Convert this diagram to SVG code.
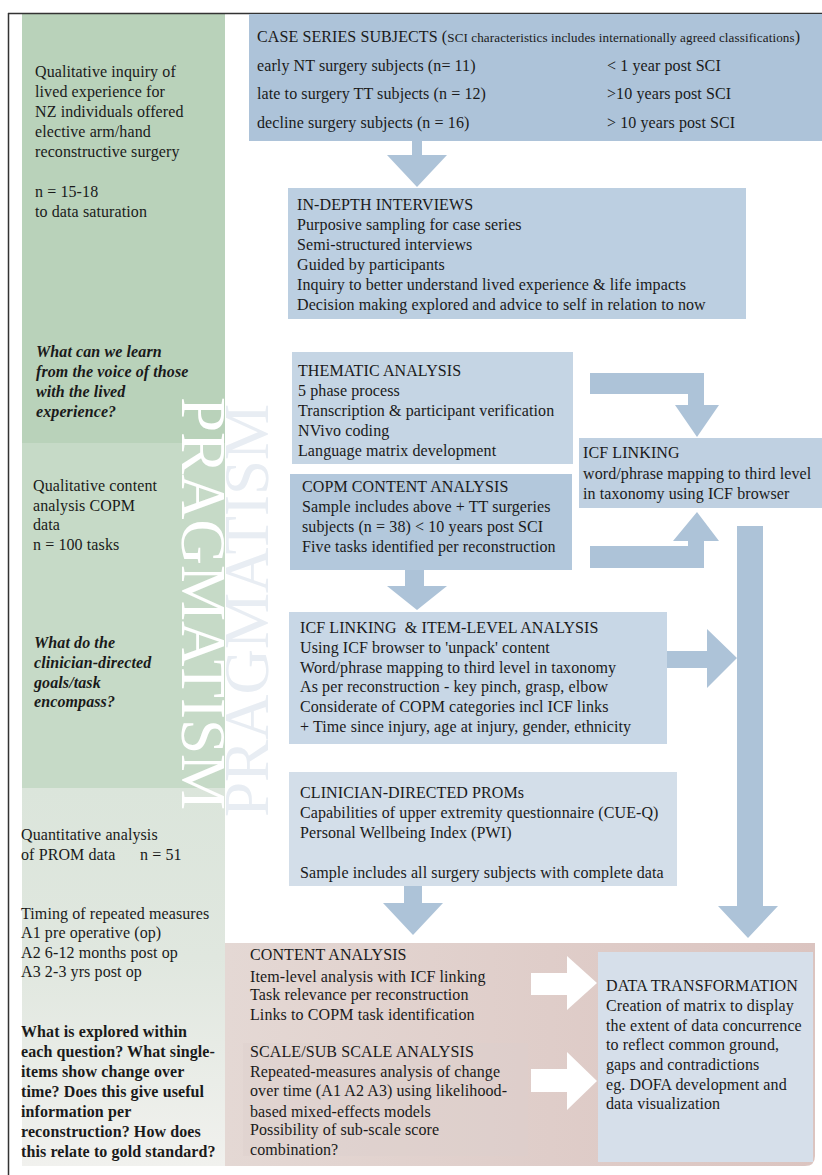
<svg xmlns="http://www.w3.org/2000/svg" width="822" height="1175" viewBox="0 0 822 1175">
<defs>
<linearGradient id="gLow" x1="0" y1="0" x2="0" y2="1">
<stop offset="0" stop-color="#dbe5db"/>
<stop offset="0.45" stop-color="#e0e7df"/>
<stop offset="1" stop-color="#f1f1ee"/>
</linearGradient>
<linearGradient id="gPink" x1="0" y1="0" x2="1" y2="0">
<stop offset="0" stop-color="#e4d8d4"/>
<stop offset="1" stop-color="#dbc4c0"/>
</linearGradient>
<style>
.t{font-family:"Liberation Serif","Times New Roman",serif;font-size:16px;letter-spacing:0.1px;fill:#1a1a1a}
.bi{font-weight:bold;font-style:italic}
.b{font-weight:bold}
.sm{font-size:13.1px}
.arr{fill:#adc3d8}
.warr{fill:#ffffff}
.wm{font-family:"Liberation Serif","Times New Roman",serif;font-size:63px}
</style>
</defs>
<rect x="0" y="0" width="822" height="1175" fill="#ffffff"/>

<g id="left-column">
<rect x="22" y="14" width="203" height="430" fill="#b9d2ba"/>
<rect x="22" y="443" width="203" height="346" fill="#c6dac7"/>
<rect x="22" y="788" width="203" height="378" fill="url(#gLow)"/>
</g>

<g id="results-band">
<path d="M225 943 H815 V1156 Q815 1166 805 1166 H225 Z" fill="url(#gPink)"/>
<rect x="243" y="1043" width="285" height="113" fill="#ddd0cc" opacity="0.4"/>
</g>

<g id="watermark">
<text class="wm" transform="translate(182,397) rotate(90)" fill="#ffffff">PRAGMATISM</text>
<text class="wm" transform="translate(268,817) rotate(-90)" fill="#e8edf3">PRAGMATISM</text>
</g>

<line x1="8.5" y1="13" x2="8.5" y2="1175" stroke="#333333" stroke-width="1.5"/>
<line x1="8" y1="13.5" x2="822" y2="13.5" stroke="#333333" stroke-width="1.5"/>

<g id="left-labels">
<text class="t" x="35" y="77">Qualitative inquiry of</text>
<text class="t" x="35" y="97">lived experience for</text>
<text class="t" x="35" y="117">NZ individuals offered</text>
<text class="t" x="35" y="137">elective arm/hand</text>
<text class="t" x="35" y="157">reconstructive surgery</text>
<text class="t" x="35" y="197">n = 15-18</text>
<text class="t" x="35" y="217">to data saturation</text>
<text class="t bi" x="36" y="357">What can we learn</text>
<text class="t bi" x="36" y="377">from the voice of those</text>
<text class="t bi" x="36" y="397">with the lived</text>
<text class="t bi" x="36" y="417">experience?</text>
<text class="t" x="33" y="491">Qualitative content</text>
<text class="t" x="33" y="511">analysis COPM</text>
<text class="t" x="33" y="530">data</text>
<text class="t" x="33" y="550">n = 100 tasks</text>
<text class="t bi" x="34" y="648">What do the</text>
<text class="t bi" x="34" y="668">clinician-directed</text>
<text class="t bi" x="34" y="688">goals/task</text>
<text class="t bi" x="34" y="707">encompass?</text>
<text class="t" x="21" y="840">Quantitative analysis</text>
<text class="t" x="21" y="860">of PROM data</text>
<text class="t" x="140" y="860">n = 51</text>
<text class="t" x="21" y="919">Timing of repeated measures</text>
<text class="t" x="21" y="938">A1 pre operative (op)</text>
<text class="t" x="21" y="958">A2 6-12 months post op</text>
<text class="t" x="21" y="977">A3 2-3 yrs post op</text>
<text class="t b" x="21" y="1037">What is explored within</text>
<text class="t b" x="21" y="1057">each question? What single-</text>
<text class="t b" x="21" y="1077">items show change over</text>
<text class="t b" x="21" y="1097">time? Does this give useful</text>
<text class="t b" x="21" y="1117">information per</text>
<text class="t b" x="21" y="1137">reconstruction? How does</text>
<text class="t b" x="21" y="1157">this relate to gold standard?</text>
</g>

<g id="connectors">
<path class="arr" d="M412 141 H422 V155 H447 L417 187 L387 155 H412 Z"/>
<path class="arr" d="M590 373 H704 V405 H719 L697 437 L675 405 H688 V394 H590 Z"/>
<path class="arr" d="M590 546 H688 V541 H673 L697 512 L719 541 H704 V568 H590 Z"/>
<path class="arr" d="M405 570 H424 V586 H447 L417 610 L387 586 H405 Z"/>
<path class="arr" d="M667 651 H707 V629 L737 658 L707 688 V668 H667 Z"/>
<path class="arr" d="M737 526 H763 V906 H778 L748 938 L718 906 H737 Z"/>
<path class="arr" d="M404 886 H422 V903 H443 L413 935 L383 903 H404 Z"/>
<path class="warr" d="M531 973 H567 V956 L597 983 L567 1010 V995 H531 Z"/>
<path class="warr" d="M531 1069 H567 V1052 L597 1081 L567 1110 V1092 H531 Z"/>
</g>

<g id="case-series">
<rect x="249" y="14" width="573" height="127" fill="#adc3d9"/>
<text class="t" x="257" y="42">CASE SERIES SUBJECTS (<tspan class="sm">SCI characteristics includes internationally agreed classifications</tspan>)</text>
<text class="t" x="257" y="71">early NT surgery subjects (n= 11)</text>
<text class="t" x="257" y="99">late to surgery TT subjects (n = 12)</text>
<text class="t" x="257" y="128">decline surgery subjects (n = 16)</text>
<text class="t" x="607" y="71">&lt; 1 year post SCI</text>
<text class="t" x="607" y="99">&gt;10 years post SCI</text>
<text class="t" x="607" y="128">&gt; 10 years post SCI</text>
</g>

<g id="in-depth-interviews">
<rect x="288" y="188" width="458" height="131" fill="#bccfe1"/>
<text class="t" x="297" y="210">IN-DEPTH INTERVIEWS</text>
<text class="t" x="297" y="230">Purposive sampling for case series</text>
<text class="t" x="297" y="250">Semi-structured interviews</text>
<text class="t" x="297" y="270">Guided by participants</text>
<text class="t" x="297" y="290">Inquiry to better understand lived experience &amp; life impacts</text>
<text class="t" x="297" y="310">Decision making explored and advice to self in relation to now</text>
</g>

<g id="thematic-analysis">
<rect x="292" y="352" width="281" height="112" fill="#c5d5e4"/>
<text class="t" x="298" y="376">THEMATIC ANALYSIS</text>
<text class="t" x="298" y="396">5 phase process</text>
<text class="t" x="298" y="416">Transcription &amp; participant verification</text>
<text class="t" x="298" y="436">NVivo coding</text>
<text class="t" x="298" y="456">Language matrix development</text>
</g>

<g id="icf-linking">
<rect x="579" y="438" width="243" height="70" fill="#bfd0e1"/>
<text class="t" x="583" y="458">ICF LINKING</text>
<text class="t" x="583" y="479">word/phrase mapping to third level</text>
<text class="t" x="583" y="499">in taxonomy using ICF browser</text>
</g>

<g id="copm-content-analysis">
<rect x="290" y="474" width="282" height="96" fill="#b3c8dc"/>
<text class="t" x="302" y="492">COPM CONTENT ANALYSIS</text>
<text class="t" x="302" y="512">Sample includes above + TT surgeries</text>
<text class="t" x="302" y="532">subjects (n = 38) &lt; 10 years post SCI</text>
<text class="t" x="302" y="552">Five tasks identified per reconstruction</text>
</g>

<g id="icf-item-level">
<rect x="289" y="612" width="378" height="132" fill="#c8d7e6"/>
<text class="t" x="300" y="633">ICF LINKING&#160; &amp; ITEM-LEVEL ANALYSIS</text>
<text class="t" x="300" y="653">Using ICF browser to 'unpack' content</text>
<text class="t" x="300" y="673">Word/phrase mapping to third level in taxonomy</text>
<text class="t" x="300" y="692">As per reconstruction - key pinch, grasp, elbow</text>
<text class="t" x="300" y="712">Considerate of COPM categories incl ICF links</text>
<text class="t" x="300" y="732">+ Time since injury, age at injury, gender, ethnicity</text>
</g>

<g id="clinician-proms">
<rect x="289" y="772" width="388" height="114" fill="#d3dee9"/>
<text class="t" x="300" y="798">CLINICIAN-DIRECTED PROMs</text>
<text class="t" x="300" y="818">Capabilities of upper extremity questionnaire (CUE-Q)</text>
<text class="t" x="300" y="838">Personal Wellbeing Index (PWI)</text>
<text class="t" x="300" y="878">Sample includes all surgery subjects with complete data</text>
</g>

<g id="content-analysis">
<text class="t" x="250" y="960">CONTENT ANALYSIS</text>
<text class="t" x="250" y="982">Item-level analysis with ICF linking</text>
<text class="t" x="250" y="1000">Task relevance per reconstruction</text>
<text class="t" x="250" y="1020">Links to COPM task identification</text>
</g>

<g id="scale-analysis">
<text class="t" x="250" y="1057">SCALE/SUB SCALE ANALYSIS</text>
<text class="t" x="250" y="1077">Repeated-measures analysis of change</text>
<text class="t" x="250" y="1096">over time (A1 A2 A3) using likelihood-</text>
<text class="t" x="250" y="1117">based mixed-effects models</text>
<text class="t" x="250" y="1135">Possibility of sub-scale score</text>
<text class="t" x="250" y="1155">combination?</text>
</g>

<g id="data-transformation">
<rect x="598" y="952" width="215" height="210" fill="#d6dfea"/>
<text class="t" x="606" y="991">DATA TRANSFORMATION</text>
<text class="t" x="606" y="1011">Creation of matrix to display</text>
<text class="t" x="606" y="1031">the extent of data concurrence</text>
<text class="t" x="606" y="1050">to reflect common ground,</text>
<text class="t" x="606" y="1070">gaps and contradictions</text>
<text class="t" x="606" y="1090">eg. DOFA development and</text>
<text class="t" x="606" y="1109">data visualization</text>
</g>
</svg>
